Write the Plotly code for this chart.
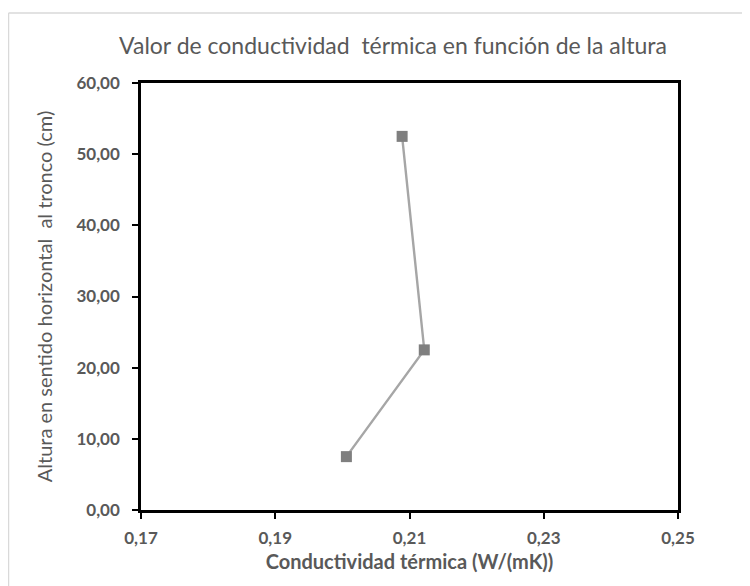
import plotly.graph_objects as go

conductividad = [0.2006, 0.2122, 0.2089]
altura = [7.5, 22.5, 52.5]
x_ticks = [0.17, 0.19, 0.21, 0.23, 0.25]
y_ticks = [0, 10, 20, 30, 40, 50, 60]

# page body has an 8px margin, so the figure is a bit smaller than the window
W, H = 742, 578
L, R, T, B = 133, 670, 75, 502
GREY = "#595959"


def px_x(p):
    return (p - L) / (R - L)


def px_y(p):
    return (B - p) / (B - T)


fig = go.Figure(
    go.Scatter(
        x=conductividad,
        y=altura,
        mode="lines+markers",
        line={"color": "#a6a6a6", "width": 2.4},
        marker={"symbol": "square", "size": 11, "color": "#7f7f7f"},
        showlegend=False,
    )
)

# light chart-area frame (top and left edges visible)
fig.add_shape(
    type="line", xref="paper", yref="paper",
    x0=px_x(0.5), x1=px_x(W), y0=px_y(5), y1=px_y(5),
    line={"color": "#d9d9d9", "width": 1.5},
)
fig.add_shape(
    type="line", xref="paper", yref="paper",
    x0=px_x(0.5), x1=px_x(0.5), y0=px_y(5), y1=px_y(H),
    line={"color": "#d9d9d9", "width": 1.5},
)

axis_common = dict(
    showgrid=False,
    zeroline=False,
    showline=True,
    mirror=True,
    linecolor="black",
    linewidth=2.5,
    ticks="outside",
    ticklen=6,
    tickwidth=2,
    tickcolor="black",
    automargin=False,
    tickformat=".2f",
    tickfont={"size": 17, "color": GREY, "weight": "bold"},
)
fig.update_xaxes(
    range=[0.17, 0.25],
    tickvals=x_ticks,
    ticklabelstandoff=5,
    title={
        "text": "Conductividad térmica (W/(mK))",
        "font": {"size": 20, "color": GREY, "weight": "bold"},
        "standoff": 8,
    },
    **axis_common,
)
fig.update_yaxes(
    range=[0, 60],
    tickvals=y_ticks,
    ticklabelstandoff=9,
    title={
        "text": "Altura en sentido horizontal  al tronco (cm)",
        "font": {"size": 20, "color": GREY},
        "standoff": 19,
    },
    **axis_common,
)
fig.update_layout(
    width=W,
    height=H,
    separators=",.",
    font_family="Lato",
    paper_bgcolor="white",
    plot_bgcolor="white",
    margin={"l": L, "r": W - R, "t": T, "b": H - B},
    title={
        "text": "Valor de conductividad  térmica en función de la altura",
        "x": 385 / W,
        "xanchor": "center",
        "y": 1 - 38 / H,
        "yanchor": "middle",
        "font": {"size": 23, "color": GREY},
    },
)

fig.write_html("out.html")
